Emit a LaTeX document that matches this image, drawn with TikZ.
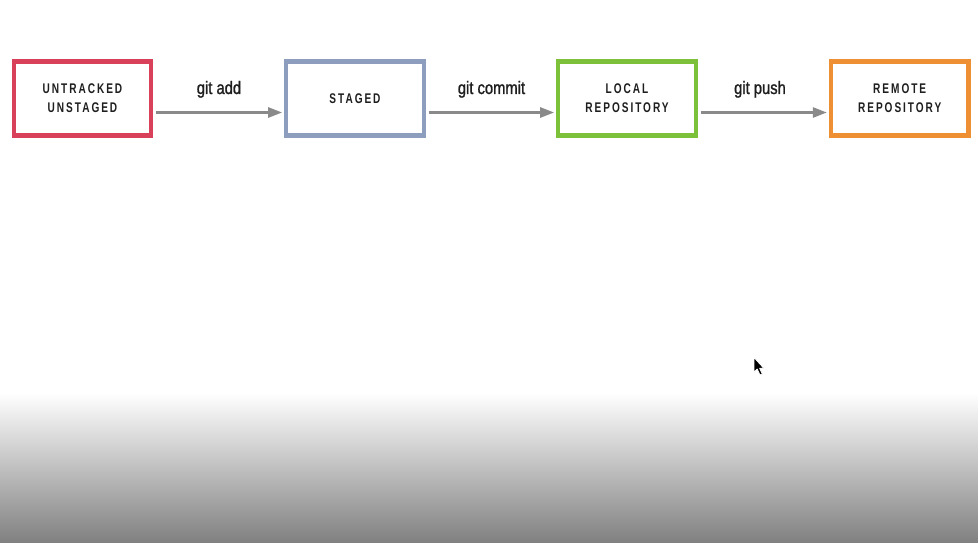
\documentclass[tikz,border=0pt]{standalone}
\usepackage{fontspec}
\usetikzlibrary{arrows.meta}
\newfontfamily\boxfont[FakeStretch=0.72,LetterSpace=14]{Liberation Sans}
\newfontfamily\labfont[FakeStretch=0.82,FakeBold=1.2]{Liberation Sans}
\definecolor{cred}{HTML}{D9405A}
\definecolor{cblue}{HTML}{8D9DBD}
\definecolor{cgreen}{HTML}{7DC13A}
\definecolor{corange}{HTML}{EE8F33}
\definecolor{carrow}{HTML}{8A8A8A}
\definecolor{ctext}{HTML}{1E1E1E}
\definecolor{cbottom}{RGB}{128,128,128}
\tikzset{
  statebox/.style={draw, line width=4.2pt, minimum width=137.5pt, minimum height=74pt,
    align=center, text=ctext, inner sep=0pt,
    font={\boxfont\bfseries\fontsize{14}{19}\selectfont}},
  cmdarrow/.style={draw=carrow, line width=2.6pt, -{Triangle[length=14pt,width=10pt]},
    shorten <=3pt, shorten >=2pt},
  cmdlabel/.style={anchor=base, text=ctext, inner sep=0pt,
    font={\labfont\fontsize{18}{20}\selectfont}}
}
\begin{document}
\begin{tikzpicture}[x=1pt,y=-1pt]
\useasboundingbox (0,0) rectangle (978,543);
\fill[white] (0,0) rectangle (978,543);
\shade[top color=white, bottom color=cbottom] (0,393) rectangle (978,543);

\node[statebox, draw=cred]    (b1) at (82.5,98.5) {UNTRACKED\\UNSTAGED};
\node[statebox, draw=cblue]   (b2) at (355,98.5) {STAGED};
\node[statebox, draw=cgreen]  (b3) at (627,98.5) {LOCAL\\REPOSITORY};
\node[statebox, draw=corange] (b4) at (899.7,98.5) {REMOTE\\REPOSITORY};

\draw[cmdarrow] (b1.east |- 0,112.5) -- (b2.west |- 0,112.5);
\draw[cmdarrow] (b2.east |- 0,112.5) -- (b3.west |- 0,112.5);
\draw[cmdarrow] (b3.east |- 0,112.5) -- (b4.west |- 0,112.5);

\node[cmdlabel] (l1) at (219,94) {git add};
\node[cmdlabel] (l2) at (491.5,94) {git commit};
\node[cmdlabel] (l3) at (760,94) {git push};

\fill[black, draw=white, line width=0.8pt, line join=round] (754,357.5) -- (754,372) -- (757.2,369) -- (760,375) -- (762.3,374) -- (759.6,368.2) -- (763.8,368.2) -- cycle;
\end{tikzpicture}
\end{document}
